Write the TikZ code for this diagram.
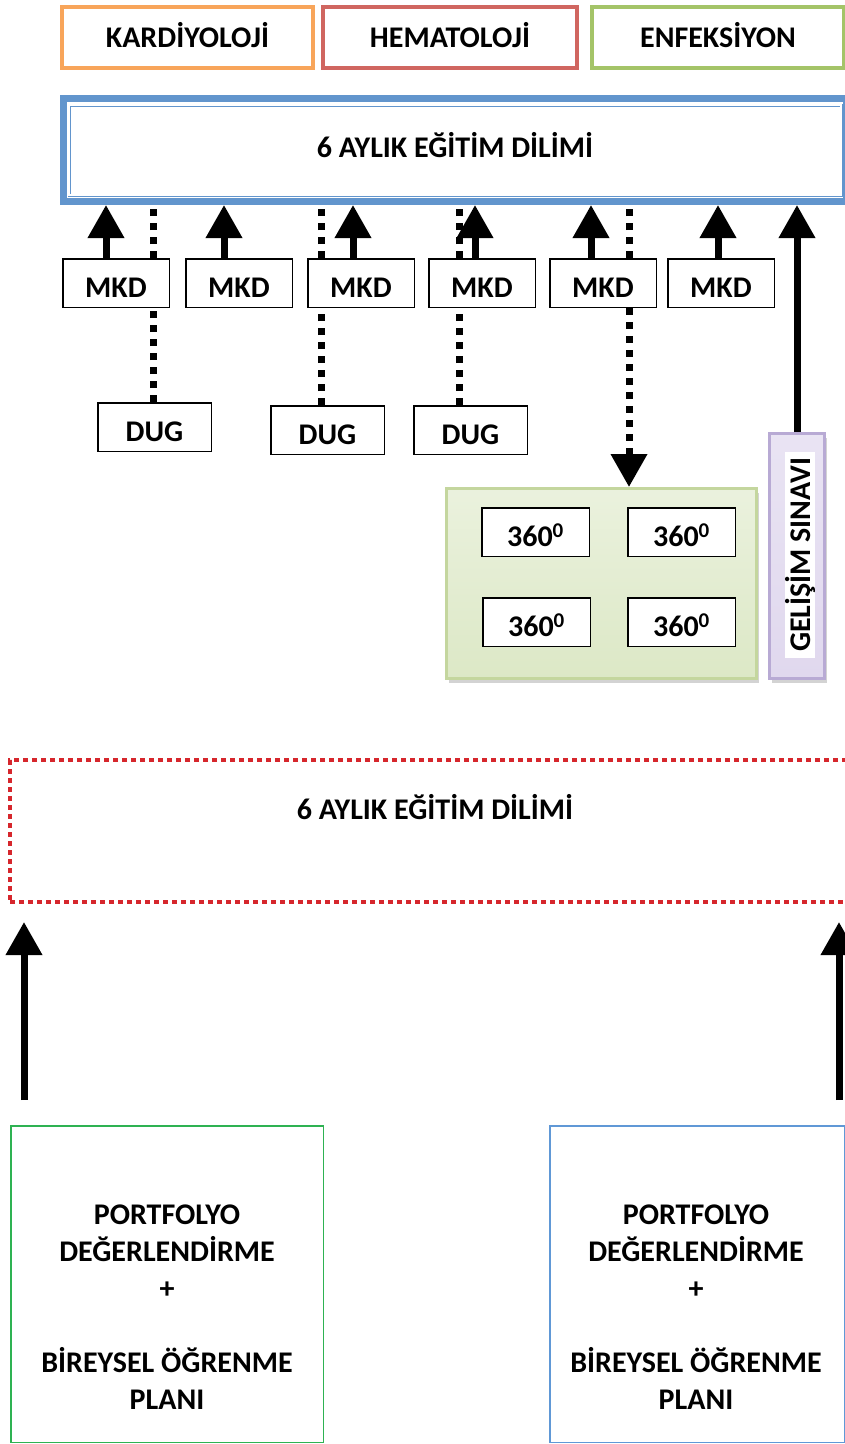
\documentclass[tikz,border=0pt]{standalone}
\usepackage{fontspec}
\setmainfont{Carlito}
\usepackage{tikz}
\usetikzlibrary{arrows.meta, positioning, shadows, calc}

\definecolor{kardorange}{RGB}{248,165,90}
\definecolor{hemared}{RGB}{208,102,96}
\definecolor{enfgreen}{RGB}{164,196,104}
\definecolor{mainblue}{RGB}{98,149,205}
\definecolor{dashred}{RGB}{214,38,44}
\definecolor{evalline}{RGB}{196,214,158}
\definecolor{evalfill}{RGB}{214,228,188}
\definecolor{examline}{RGB}{184,170,212}
\definecolor{examfill}{RGB}{224,216,238}
\definecolor{portgreen}{RGB}{46,178,82}
\definecolor{portblue}{RGB}{96,152,214}

\tikzstyle{bigtext} = [font=\bfseries\fontsize{30}{37}\selectfont]
\tikzstyle{branch} = [rectangle, draw, bigtext, line width=4pt, minimum height=61pt, text height=20pt, text depth=0pt]
\tikzstyle{mkd} = [rectangle, draw, bigtext, fill=white, line width=1.5pt, minimum width=106.5pt, minimum height=48.5pt, text height=29pt, text depth=0pt]
\tikzstyle{dug} = [mkd, minimum width=113.5pt]
\tikzstyle{score} = [mkd, minimum width=107.5pt]
\tikzstyle{portbox} = [rectangle, draw, line width=1.5pt, minimum height=316.5pt]
\tikzstyle{arrow} = [-{Triangle[length=33pt,width=35pt]}, line width=7pt]
\tikzstyle{dotline} = [line width=7pt, dash pattern=on 7pt off 7pt]
\tikzstyle{dotarrow} = [dotline, -{Triangle[length=33pt,width=35pt]}]

\begin{document}
\begin{tikzpicture}[x=1pt, y=-1pt]

\useasboundingbox (0,0) rectangle (844,1444);

% branches on top
\node[branch, draw=kardorange, minimum width=251pt] (kard) at (187.5,37.5) {KARDİYOLOJİ};
\node[branch, draw=hemared, minimum width=254pt] (hema) at (450,37.5) {HEMATOLOJİ};
\node[branch, draw=enfgreen, minimum width=252pt] (enf) at (718,37.5) {ENFEKSİYON};

% first six month period
\node[rectangle, draw=mainblue, line width=7pt, bigtext, minimum width=783pt, minimum height=103pt, text height=14pt, text depth=0pt] (main) at (455,150) {6 AYLIK EĞİTİM DİLİMİ};
\draw[mainblue, double, line width=.8pt, double distance=1.4pt] ($(main.north west)+(9,10)$) rectangle ($(main.south east)+(-9,-10)$);

% MKD row
\node[mkd] (mkd1) at (116,283) {MKD};
\node[mkd, right=15pt of mkd1] (mkd2) {MKD};
\node[mkd, right=14pt of mkd2] (mkd3) {MKD};
\node[mkd, right=13pt of mkd3] (mkd4) {MKD};
\node[mkd, right=13pt of mkd4] (mkd5) {MKD};
\node[mkd, right=10pt of mkd5] (mkd6) {MKD};

% DUG row
\node[dug] (dug1) at (154.5,427) {DUG};
\node[dug] (dug2) at (327.5,430) {DUG};
\node[dug] (dug3) at (470.5,430) {DUG};

% 360 degree evaluation
\node[rectangle, draw=evalline, line width=3pt, top color=evalfill!50, middle color=evalfill!10, bottom color=evalfill!85, drop shadow={shadow xshift=2pt, shadow yshift=-4pt, opacity=.35}, minimum width=310pt, minimum height=190pt] (eval) at (601.5,583.5) {};
\node[score] (r1) at (535.5,532) {360\textsuperscript{0}};
\node[score] (r2) at (681.5,532) {360\textsuperscript{0}};
\node[score] (r3) at (536.5,622) {360\textsuperscript{0}};
\node[score] (r4) at (681.5,622) {360\textsuperscript{0}};

% progress exam
\node[rectangle, draw=examline, line width=3pt, top color=examfill!70, bottom color=examfill, drop shadow={shadow xshift=2pt, shadow yshift=-4pt, opacity=.35}, minimum width=55pt, minimum height=245pt] (exam) at (797,556) {};
\node[rectangle, fill=white, bigtext, rotate=90, inner sep=0pt, minimum width=206pt, minimum height=30pt] (examtext) at (800,555) {GELİŞİM SINAVI};

% second six month period
\node[rectangle, draw=dashred, line width=4pt, dash pattern=on 5pt off 4pt, minimum width=838pt, minimum height=142pt] (second) at (429,831) {};
\node[bigtext] (secondtitle) at (435,807) {6 AYLIK EĞİTİM DİLİMİ};

% portfolio boxes
\node[portbox, draw=portgreen, minimum width=312.5pt] (portL) at (167,1284) {};
\node[portbox, draw=portblue, minimum width=294.5pt] (portR) at (697,1284) {};
\node[bigtext, align=center] (portLtext) at (167,1307) {PORTFOLYO\\DEĞERLENDİRME\\+\\[37pt]BİREYSEL ÖĞRENME\\PLANI};
\node[bigtext, align=center] (portRtext) at (696,1307) {PORTFOLYO\\DEĞERLENDİRME\\+\\[37pt]BİREYSEL ÖĞRENME\\PLANI};

% arrows from MKD up
\foreach \i/\dx in {1/-10, 2/-15, 3/-8, 4/-7, 5/-12, 6/-3} {
  \coordinate (u\i) at ($(mkd\i.north)+(\dx,0)$);
  \draw[arrow] (u\i) -- (u\i |- main.south);
}

% dotted links DUG - MKD - period
\coordinate (t1) at ($(dug1.north)+(-1.5,0)$);
\coordinate (t2) at ($(dug2.north)+(-6.5,0)$);
\coordinate (t3) at ($(dug3.north)+(-11.5,0)$);
\draw[dotline] (t1) -- (t1 |- mkd1.south);
\draw[dotline] (t1 |- mkd1.north) -- (t1 |- main.south);
\draw[dotline] (t2) -- (t2 |- mkd3.south);
\draw[dotline] (t2 |- mkd3.north) -- (t2 |- main.south);
\draw[dotline] (t3) -- (t3 |- mkd4.south);
\draw[dotline] (t3 |- mkd4.north) -- (t3 |- main.south);

% 360 link
\coordinate (t4) at ($(mkd5.south)+(26,0)$);
\draw[dotline] (t4 |- mkd5.north) -- (t4 |- main.south);
\draw[dotarrow] (t4) -- (t4 |- eval.north);

% exam arrow
\draw[arrow] (exam.north) -- (exam.north |- main.south);

% portfolio arrows
\coordinate (aL) at ($(portL.north west)+(14,-25)$);
\coordinate (aR) at ($(portR.north east)+(-6,-25)$);
\draw[arrow, shorten >=18pt] (aL) -- (aL |- second.south);
\draw[arrow, shorten >=18pt] (aR) -- (aR |- second.south);

\end{tikzpicture}
\end{document}
